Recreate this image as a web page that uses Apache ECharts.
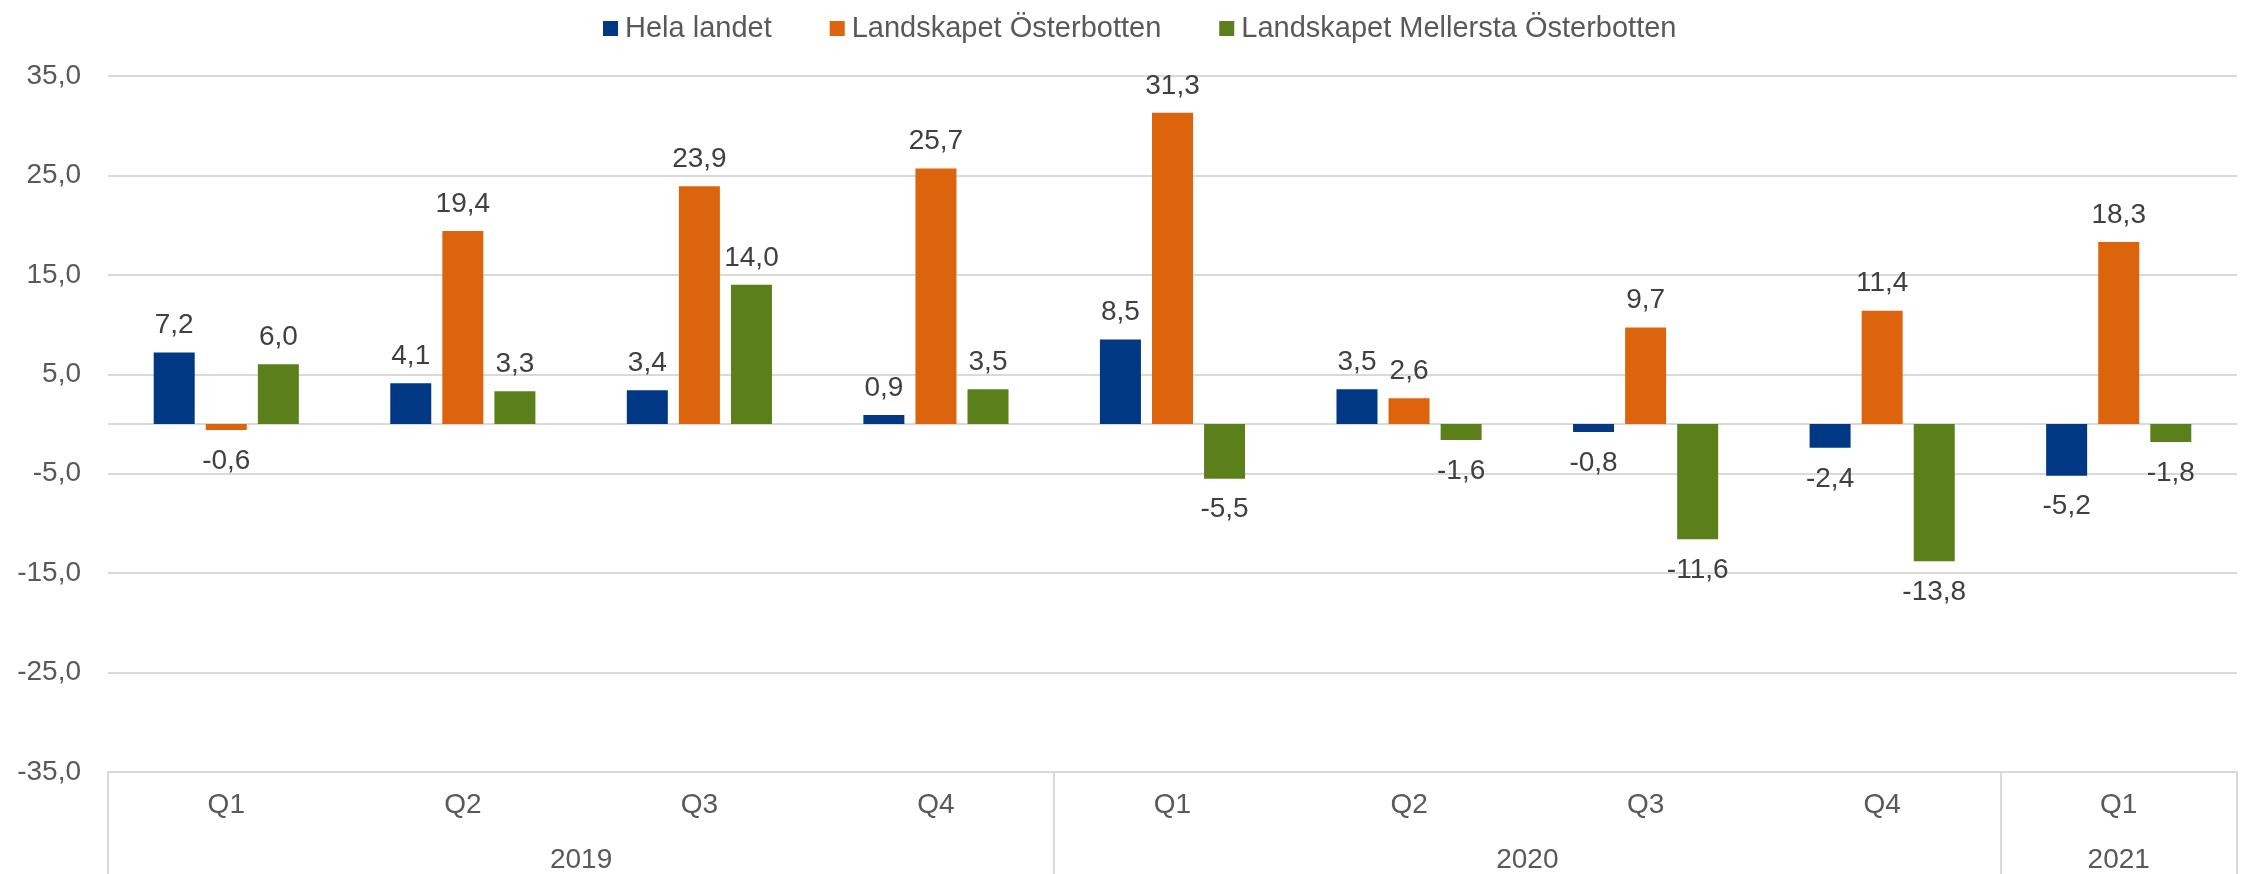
<!DOCTYPE html>
<html>
<head>
<meta charset="utf-8">
<script src="https://cdn.jsdelivr.net/npm/echarts@6/dist/echarts.min.js"></script>
<style>
html,body{margin:0;padding:0;background:#fff;}
#chart{width:2247px;height:874px;}
</style>
</head>
<body>
<div id="chart"></div>
<script>
const quarters = ['Q1','Q2','Q3','Q4','Q1','Q2','Q3','Q4','Q1'];
const yearOfQuarter = ['2019','2019','2019','2019','2020','2020','2020','2020','2021'];
const seriesNames = ['Hela landet','Landskapet Österbotten','Landskapet Mellersta Österbotten'];
const helaLandet = [7.2, 4.1, 3.4, 0.9, 8.5, 3.5, -0.8, -2.4, -5.2];
const osterbotten = [-0.6, 19.4, 23.9, 25.7, 31.3, 2.6, 9.7, 11.4, 18.3];
const mellersta = [6.0, 3.3, 14.0, 3.5, -5.5, -1.6, -11.6, -13.8, -1.8];
const colors = ['#003884', '#dc640d', '#5b801b'];

// year groups derived from quarter -> year mapping
const groups = [];
yearOfQuarter.forEach((y, i) => {
  if (!groups.length || groups[groups.length - 1].year !== y) groups.push({year: y, start: i, end: i + 1});
  else groups[groups.length - 1].end = i + 1;
});
const boundaries = [0].concat(groups.map(g => g.end));
const centers = groups.map(g => (g.start + g.end) / 2);

const fmt = v => v.toFixed(1).replace('.', ',');
const FONT = 'Liberation Sans, Arial, sans-serif';

function makeSeries(name, values, color, idx) {
  const s = {
    name: name,
    type: 'bar',
    barWidth: 41,
    barGap: '27%',
    itemStyle: {color: color},
    data: values.map(v => ({
      value: v,
      label: {position: v >= 0 ? 'top' : 'bottom', distance: v >= 0 ? 13 : 17}
    })),
    label: {
      show: true,
      fontSize: 28,
      fontFamily: FONT,
      color: '#404040',
      formatter: p => fmt(p.value)
    }
  };
  if (idx === 0) {
    s.markLine = {
      silent: true,
      symbol: 'none',
      label: {show: false},
      lineStyle: {color: '#d9d9d9', type: 'solid', width: 2},
      data: [{yAxis: 0}],
      z: 1
    };
  }
  return s;
}

const chart = echarts.init(document.getElementById('chart'), null, {renderer: 'canvas'});
chart.setOption({
  animation: false,
  backgroundColor: '#ffffff',
  textStyle: {fontFamily: FONT},
  legend: {
    top: 9,
    left: 598,
    itemWidth: 15,
    itemHeight: 15,
    itemGap: 58,
    icon: 'rect',
    textStyle: {fontSize: 29, color: '#595959', fontFamily: FONT, padding: [0, 0, 0, 2]},
    data: seriesNames
  },
  grid: {left: 108, right: 10, top: 76, bottom: 102, containLabel: false},
  xAxis: [
    {
      type: 'category',
      data: quarters,
      position: 'bottom',
      axisLine: {show: true, onZero: false, lineStyle: {color: '#d9d9d9', width: 2}},
      axisTick: {show: false},
      axisLabel: {fontSize: 28, color: '#595959', fontFamily: FONT, margin: 19}
    },
    {
      type: 'value',
      min: 0,
      max: quarters.length,
      position: 'bottom',
      axisLine: {show: false, onZero: false},
      splitLine: {show: false},
      axisTick: {
        show: true,
        customValues: boundaries,
        length: 104,
        lineStyle: {color: '#d9d9d9', width: 2}
      },
      axisLabel: {
        show: true,
        customValues: centers,
        margin: 74,
        fontSize: 28,
        color: '#595959',
        fontFamily: FONT,
        formatter: v => {
          const g = groups.find(gr => Math.abs((gr.start + gr.end) / 2 - v) < 1e-6);
          return g ? g.year : '';
        }
      }
    }
  ],
  yAxis: {
    type: 'value',
    min: -35,
    max: 35,
    interval: 10,
    axisLine: {show: false},
    axisTick: {show: false},
    splitLine: {show: true, lineStyle: {color: '#d9d9d9', width: 2}},
    axisLabel: {fontSize: 28, color: '#595959', fontFamily: FONT, margin: 27, formatter: fmt}
  },
  series: [
    makeSeries(seriesNames[0], helaLandet, colors[0], 0),
    makeSeries(seriesNames[1], osterbotten, colors[1], 1),
    makeSeries(seriesNames[2], mellersta, colors[2], 2)
  ]
});
</script>
</body>
</html>
